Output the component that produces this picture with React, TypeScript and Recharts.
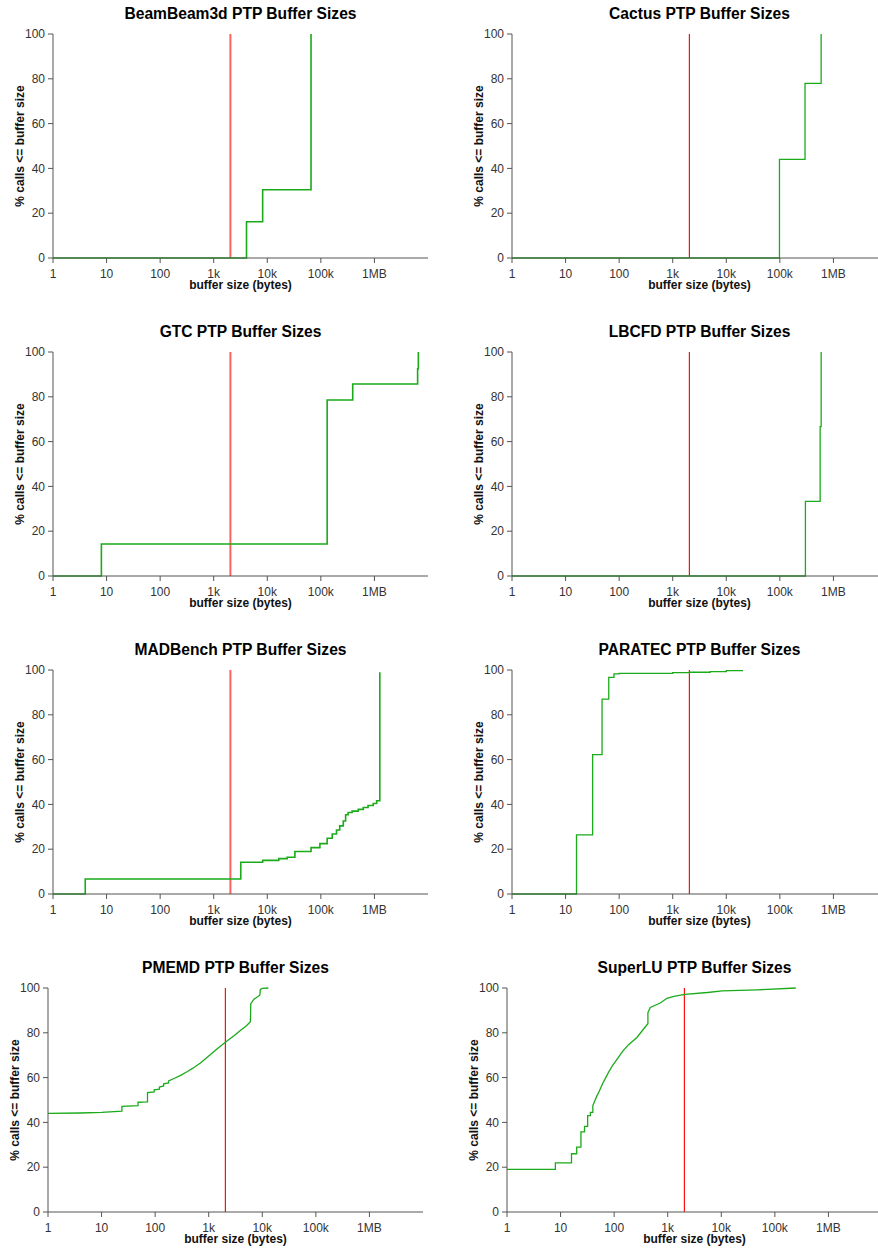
import { LineChart, Line, XAxis, YAxis, ReferenceLine } from "recharts";

const FONT = '"Liberation Sans", Arial, Helvetica, sans-serif';

// shared axis ticks
const xTicks = [1, 10, 100, 1000, 10000, 100000, 1000000];
const xTickLabels = ["1", "10", "100", "1k", "10k", "100k", "1MB"];
const yTicks = [0, 20, 40, 60, 80, 100];
const eagerLimit = 2048; // red marker line (bytes)

// BeamBeam3d
const beamSizes = [1, 4096, 8192, 65536];
const beamPct = [0, 16.2, 30.5, 100];

// Cactus
const cactusSizes = [1, 98304, 294912, 589824];
const cactusPct = [0, 44, 78, 100];

// GTC
const gtcSizes = [1, 8, 131072, 393216, 6400000, 6600000];
const gtcPct = [0, 14.3, 78.6, 85.7, 92.5, 100];

// LBCFD
const lbcfdSizes = [1, 300000, 565000, 590000];
const lbcfdPct = [0, 33.3, 66.7, 100];

// MADBench
const madSizes = [
  1, 4, 3200, 8192, 16384, 23500, 32768, 65536, 96000, 131072, 163000, 196000,
  225000, 262144, 290000, 323000, 383000, 500000, 620000, 760000, 950000,
  1100000, 1260000,
];
const madPct = [
  0, 6.7, 14.2, 15.0, 15.8, 16.4, 19.0, 20.7, 22.5, 24.9, 26.8, 28.6, 30.4,
  32.6, 35.4, 36.4, 37.0, 37.8, 38.6, 39.5, 40.4, 41.6, 99,
];

// PARATEC
const paratecSizes = [1, 16, 32, 48, 64, 80, 100, 1000, 2048, 5000, 10000, 20000];
const paratecPct = [0, 26.4, 62.2, 87, 96.7, 98.3, 98.5, 98.8, 99, 99.3, 99.7, 100];

// PMEMD (traced curve, jumps kept as pairs of points)
const pmemdSizes = [
  1, 4, 10, 24, 24, 48, 48, 72, 72, 96, 96, 120, 120, 144, 144, 178, 178, 220,
  300, 400, 500, 700, 1000, 1500, 2048, 3000, 4000, 5000, 6000, 6100, 7000,
  9000, 9200, 10000, 13000,
];
const pmemdPct = [
  44, 44.2, 44.5, 45, 47.2, 47.5, 49, 49.2, 53.3, 53.6, 54.5, 54.8, 55.8, 56.3,
  57.2, 57.6, 58.5, 59.5, 61, 62.7, 64.1, 66.5, 69.6, 73.2, 75.8, 78.8, 81.2,
  83, 84.9, 93, 95, 96.8, 99.4, 99.8, 100,
];

// SuperLU (traced curve, jumps kept as pairs of points)
const superluSizes = [
  1, 8, 8, 16, 16, 20, 20, 24, 24, 28, 28, 32, 32, 36, 36, 40, 40, 47, 53, 61,
  71, 80, 94, 112, 145, 186, 266, 410, 427, 427, 473, 725, 970, 1300, 2100,
  5500, 10400, 47000, 246000,
];
const superluPct = [
  19, 19, 21.9, 21.9, 26, 26, 29, 29, 35.8, 35.8, 38.2, 38.2, 43, 43, 44.5,
  44.5, 47.5, 51.5, 54, 57.4, 60.3, 62.7, 65.5, 68, 71.8, 74.7, 77.9, 83.6, 84,
  89, 91.3, 93.3, 95.4, 96.3, 97.2, 98, 98.7, 99.2, 100,
];

const PLOT_W = 375;
const PLOT_H = 224;
const PAD_L = 50;
const PAD_T = 10;
const PAD_R = 10;
const PAD_B = 40;

interface PanelProps {
  title: string;
  sizes: number[];
  pct: number[];
  curve: "stepAfter" | "linear";
  left: number;
  top: number;
  thick?: boolean;
}

function Panel({ title, sizes, pct, curve, left, top, thick }: PanelProps) {
  const data = sizes.map((s, i) => ({ size: s, pct: pct[i] }));
  const cx = left + PLOT_W / 2;
  const cy = top + PLOT_H / 2;
  return (
    <>
      <div
        style={{
          position: "absolute",
          left: cx,
          top: top - 20.5,
          transform: "translate(-50%, -50%)",
          fontSize: 15.6,
          fontWeight: "bold",
          fontFamily: FONT,
          color: "#000",
          whiteSpace: "nowrap",
        }}
      >
        {title}
      </div>
      <div style={{ position: "absolute", left: left - PAD_L, top: top - PAD_T }}>
        <LineChart
          width={PAD_L + PLOT_W + PAD_R}
          height={PAD_T + PLOT_H + PAD_B}
          data={data}
          margin={{ top: PAD_T, right: PAD_R, bottom: 0, left: 0 }}
        >
          <XAxis
            dataKey="size"
            type="number"
            scale="log"
            domain={[1, 1e7]}
            allowDataOverflow
            ticks={xTicks}
            tickFormatter={(v: number) => xTickLabels[xTicks.indexOf(v)] ?? ""}
            height={PAD_B}
            tickSize={5}
            tickMargin={6}
            stroke="#555"
            tick={{ fontSize: 12, fill: "#333", fontFamily: FONT }}
            interval={0}
          />
          <YAxis
            type="number"
            domain={[0, 100]}
            ticks={yTicks}
            width={PAD_L}
            tickSize={5}
            tickMargin={3}
            stroke="#555"
            tick={{ fontSize: 12, fill: "#333", fontFamily: FONT }}
            interval={0}
          />
          <ReferenceLine
            x={eagerLimit}
            stroke={thick ? "#ff6060" : "#ff1010"}
            strokeWidth={thick ? 2 : 1.2}
          />
          <Line
            dataKey="pct"
            type={curve}
            stroke="#1aaa1a"
            strokeWidth={thick ? 1.6 : 1.3}
            dot={false}
            isAnimationActive={false}
          />
        </LineChart>
      </div>
      <div
        style={{
          position: "absolute",
          left: cx,
          top: top + PLOT_H + 27,
          transform: "translate(-50%, -50%)",
          fontSize: 12,
          fontWeight: "bold",
          fontFamily: FONT,
          color: "#111",
          whiteSpace: "nowrap",
        }}
      >
        buffer size (bytes)
      </div>
      <div
        style={{
          position: "absolute",
          left: left - 33,
          top: cy,
          transform: "translate(-50%, -50%) rotate(-90deg)",
          fontSize: 12,
          fontWeight: "bold",
          fontFamily: FONT,
          color: "#111",
          whiteSpace: "nowrap",
        }}
      >
        % calls &lt;= buffer size
      </div>
    </>
  );
}

export default function App() {
  return (
    <div
      style={{
        position: "absolute",
        left: 0,
        top: 0,
        width: 878,
        height: 1250,
        overflow: "hidden",
        background: "#fff",
      }}
    >
      <Panel title="BeamBeam3d PTP Buffer Sizes" sizes={beamSizes} pct={beamPct} curve="stepAfter" left={53} top={34} thick />
      <Panel title="Cactus PTP Buffer Sizes" sizes={cactusSizes} pct={cactusPct} curve="stepAfter" left={512} top={34} />
      <Panel title="GTC PTP Buffer Sizes" sizes={gtcSizes} pct={gtcPct} curve="stepAfter" left={53} top={352} thick />
      <Panel title="LBCFD PTP Buffer Sizes" sizes={lbcfdSizes} pct={lbcfdPct} curve="stepAfter" left={512} top={352} />
      <Panel title="MADBench PTP Buffer Sizes" sizes={madSizes} pct={madPct} curve="stepAfter" left={53} top={670} thick />
      <Panel title="PARATEC PTP Buffer Sizes" sizes={paratecSizes} pct={paratecPct} curve="stepAfter" left={512} top={670} />
      <Panel title="PMEMD PTP Buffer Sizes" sizes={pmemdSizes} pct={pmemdPct} curve="linear" left={48} top={988} />
      <Panel title="SuperLU PTP Buffer Sizes" sizes={superluSizes} pct={superluPct} curve="linear" left={507} top={988} />
    </div>
  );
}
